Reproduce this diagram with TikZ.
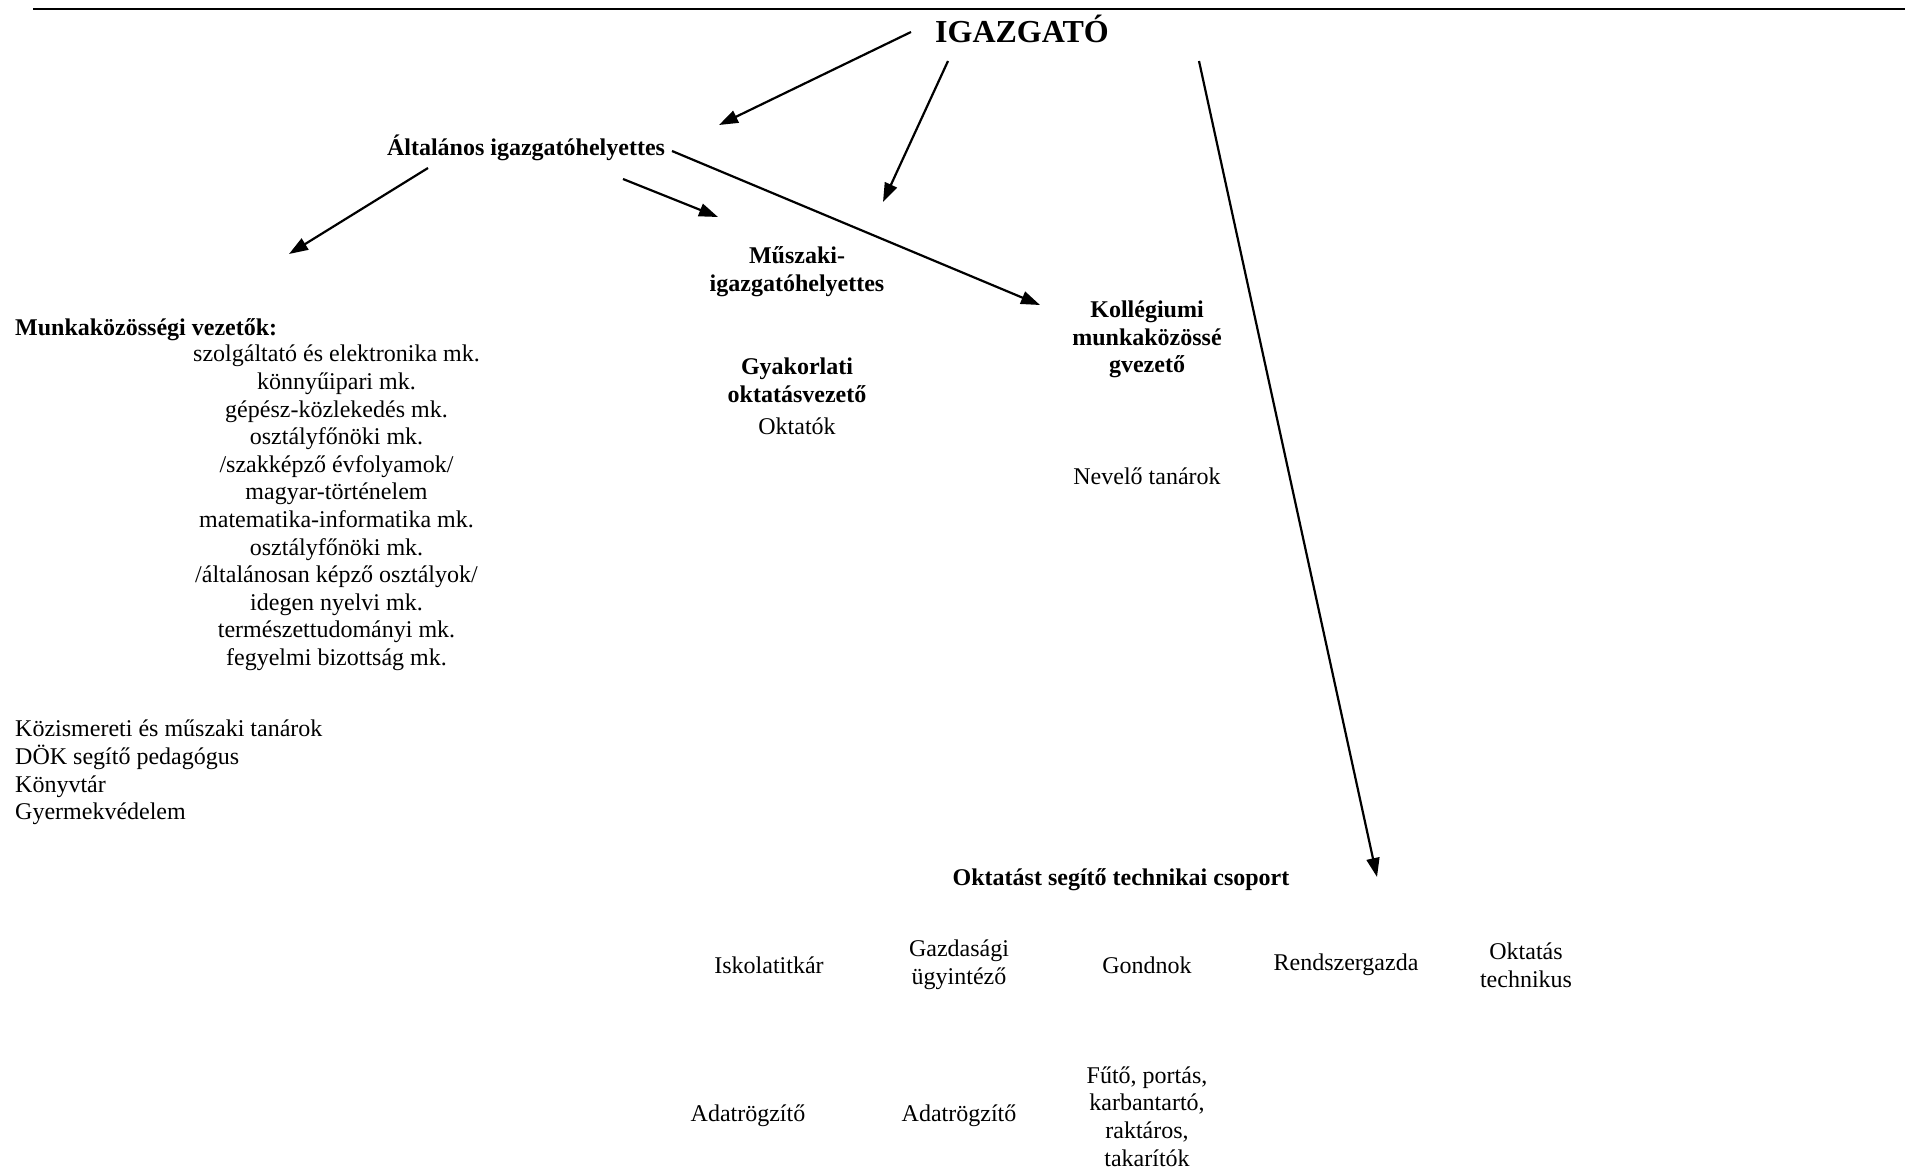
\documentclass[tikz,border=0pt]{standalone}
\usepackage{fontspec}
\setmainfont{Liberation Serif}
\usetikzlibrary{arrows.meta}
\begin{document}
\begin{tikzpicture}[x=1pt,y=-1pt,
  txt/.style={inner sep=0pt,font=\fontsize{24}{27.6}\selectfont,align=center,yshift=-2.5pt},
  btxt/.style={txt,font=\fontsize{24}{27.6}\selectfont\bfseries},
  arr/.style={line width=2.2pt,-{Triangle[length=19pt,width=13pt]}}]
\useasboundingbox (0,0) rectangle (1905,1167);
% top rule
\coordinate (rl) at (33,8.5);
\coordinate (rr) at (1905,8.5);
\draw[line width=2pt] (rl) -- (rr);
% nodes
\node[inner sep=0pt,font=\fontsize{32}{36}\selectfont\bfseries] (ig) at (1022,29) {IGAZGATÓ};
\node[btxt] (alt) at (526,145) {Általános igazgatóhelyettes};
\node[btxt] (musz) at (797,269) {Műszaki-\\igazgatóhelyettes};
\node[btxt] (koll) at (1147,337) {Kollégiumi\\munkaközössé\\gvezető};
\node[btxt,anchor=west] (mkv) at (15,327) {Munkaközösségi vezetők:};
\node[txt] (mklist) at (336.5,505.5) {szolgáltató és elektronika mk.\\könnyűipari mk.\\gépész-közlekedés mk.\\osztályfőnöki mk.\\/szakképző évfolyamok/\\magyar-történelem\\matematika-informatika mk.\\osztályfőnöki mk.\\/általánosan képző osztályok/\\idegen nyelvi mk.\\természettudományi mk.\\fegyelmi bizottság mk.};
\node[txt,align=left,anchor=west] (kozism) at (15,770) {Közismereti és műszaki tanárok\\DÖK segítő pedagógus\\Könyvtár\\Gyermekvédelem};
\node[btxt] (gyak) at (797,378) {Gyakorlati\\oktatásvezető};
\node[txt] (oktatok) at (797,424) {Oktatók};
\node[txt] (nevelo) at (1147,474) {Nevelő tanárok};
\node[btxt] (otsc) at (1121,877) {Oktatást segítő technikai csoport};
\node[txt] (iskt) at (769,962.5) {Iskolatitkár};
\node[txt] (gazd) at (959,962.5) {Gazdasági\\ügyintéző};
\node[txt] (gond) at (1147,962.5) {Gondnok};
\node[txt] (rend) at (1346,962.5) {Rendszergazda};
\node[txt] (okttech) at (1526,962.5) {Oktatás\\technikus};
\node[txt] (adat1) at (748,1113) {Adatrögzítő};
\node[txt] (adat2) at (959,1113) {Adatrögzítő};
\node[txt] (futo) at (1147,1114) {Fűtő, portás,\\karbantartó,\\raktáros,\\takarítók};
% arrow end points
\coordinate (a1s) at (911,32);   \coordinate (a1e) at (719,125);
\coordinate (a2s) at (948,61);   \coordinate (a2e) at (883,202);
\coordinate (a3s) at (1199,61);  \coordinate (a3e) at (1377,877);
\coordinate (a4s) at (428,168);  \coordinate (a4e) at (289,254);
\coordinate (a5s) at (623,179);  \coordinate (a5e) at (718,217);
\coordinate (a6s) at (672,151);  \coordinate (a6e) at (1040,305);
\draw[arr] (a1s) -- (a1e);
\draw[arr] (a2s) -- (a2e);
\draw[arr] (a3s) -- (a3e);
\draw[arr] (a4s) -- (a4e);
\draw[arr] (a5s) -- (a5e);
\draw[arr] (a6s) -- (a6e);
\end{tikzpicture}
\end{document}
